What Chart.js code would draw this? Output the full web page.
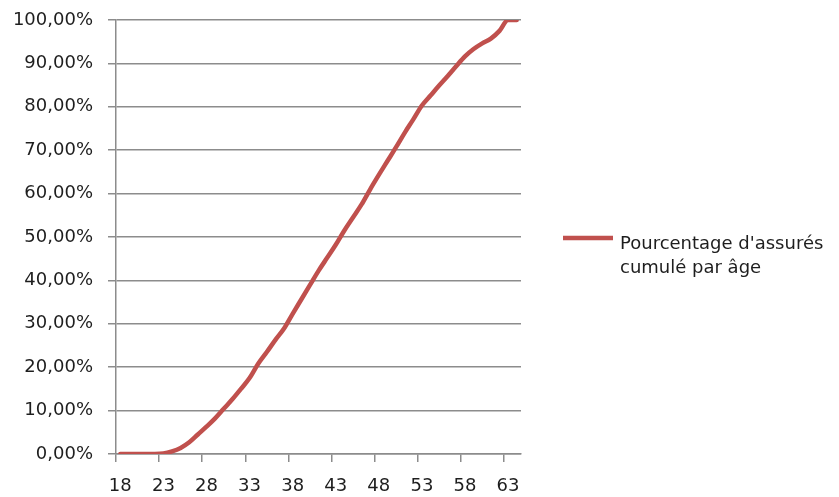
<!DOCTYPE html>
<html lang="fr">
<head>
<meta charset="utf-8">
<title>Pourcentage d'assurés cumulé par âge</title>
<script src="https://cdn.jsdelivr.net/npm/chart.js@4/dist/chart.umd.min.js"></script>
<style>
  html, body { margin: 0; padding: 0; background: #fff; }
  #wrap { width: 839px; height: 497px; }
</style>
</head>
<body>
<div id="wrap"><canvas id="cumulChart"></canvas></div>
<script>
// ages 18 to 64
const ages = [
  18, 19, 20, 21, 22, 23, 24, 25, 26, 27,
  28, 29, 30, 31, 32, 33, 34, 35, 36, 37,
  38, 39, 40, 41, 42, 43, 44, 45, 46, 47,
  48, 49, 50, 51, 52, 53, 54, 55, 56, 57,
  58, 59, 60, 61, 62, 63, 64
];

// cumulative share of insured people, in %
const cumulPct = [
  0.0, 0.0, 0.0, 0.0, 0.0, 0.1, 0.6, 1.4, 2.7, 4.5,
  6.3, 8.2, 10.4, 12.6, 15.0, 17.5, 20.8, 23.5, 26.3, 28.9,
  32.3, 35.6, 38.9, 42.2, 45.2, 48.2, 51.5, 54.5, 57.5, 61.0,
  64.3, 67.5, 70.7, 74.0, 77.1, 80.3, 82.6, 84.9, 87.1, 89.4,
  91.6, 93.3, 94.6, 95.7, 97.5, 100.0, 100.0
];

// ages that carry a label under the x axis
const shownAges = [18, 23, 28, 33, 38, 43, 48, 53, 58, 63];

const seriesLabel = ["Pourcentage d'assurés", 'cumulé par âge'];

const lineRed = '#C0504D';
const gridGrey = '#8c8c8c';

Chart.defaults.font.family = "'DejaVu Sans', sans-serif";
Chart.defaults.font.size = 18;
Chart.defaults.color = '#1e1e1e';

// legend drawn by hand so the label can sit on two lines
const sideLegend = {
  id: 'sideLegend',
  afterDraw(chart) {
    const ctx = chart.ctx;
    const ds = chart.data.datasets[0];
    const x0 = chart.chartArea.right + 42;
    ctx.save();
    ctx.strokeStyle = ds.borderColor;
    ctx.lineWidth = ds.borderWidth;
    ctx.beginPath();
    ctx.moveTo(x0, 238);
    ctx.lineTo(x0 + 50, 238);
    ctx.stroke();
    ctx.fillStyle = Chart.defaults.color;
    ctx.font = "18px 'DejaVu Sans', sans-serif";
    ctx.textAlign = 'left';
    ctx.textBaseline = 'alphabetic';
    seriesLabel.forEach((line, i) => {
      ctx.fillText(line, x0 + 57, 249 + i * 24);
    });
    ctx.restore();
  }
};

new Chart(document.getElementById('cumulChart').getContext('2d'), {
  type: 'line',
  data: {
    labels: ages,
    datasets: [{
      label: seriesLabel.join(' '),
      data: cumulPct,
      borderColor: lineRed,
      backgroundColor: lineRed,
      borderWidth: 4.5,
      borderCapStyle: 'round',
      pointRadius: 0,
      cubicInterpolationMode: 'monotone',
      fill: false
    }]
  },
  options: {
    responsive: true,
    maintainAspectRatio: false,
    animation: false,
    layout: {
      padding: { top: 20, right: 318, bottom: 0, left: 0 }
    },
    plugins: {
      legend: { display: false },
      tooltip: { enabled: false }
    },
    scales: {
      x: {
        offset: true,
        afterFit: function(scale) {
          scale.height = 43;
          scale.paddingLeft = 0;
          scale.paddingRight = 0;
        },
        grid: {
          offset: true,
          drawOnChartArea: false,
          lineWidth: 1.5,
          tickLength: 8,
          tickColor: function(c) {
            return c.index % 5 === 0 ? gridGrey : 'rgba(0,0,0,0)';
          }
        },
        border: { color: gridGrey, width: 1.5 },
        ticks: {
          autoSkip: false,
          maxRotation: 0,
          padding: 14,
          callback: function(value, index) {
            return shownAges.includes(ages[index]) ? String(ages[index]) : '';
          }
        }
      },
      y: {
        min: 0,
        max: 100,
        afterFit: function(scale) {
          scale.width = 116;
          scale.paddingTop = 0;
          scale.paddingBottom = 0;
        },
        grid: {
          color: gridGrey,
          lineWidth: 1.5,
          tickLength: 8
        },
        border: { color: gridGrey, width: 1.5 },
        ticks: {
          stepSize: 10,
          padding: 15,
          callback: function(value) {
            return value.toFixed(2).replace('.', ',') + '%';
          }
        }
      }
    }
  },
  plugins: [sideLegend]
});
</script>
</body>
</html>
